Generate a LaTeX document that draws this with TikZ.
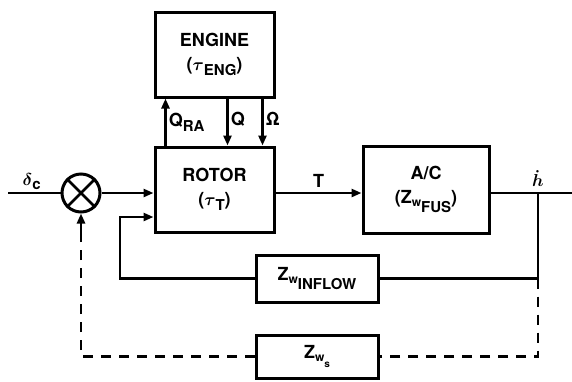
\documentclass[tikz,border=0pt]{standalone}
\usepackage{fontspec}
\setmainfont{TeX Gyre Heros}
\usetikzlibrary{positioning,arrows.meta}

% lowered subscript text and the small w index
\newcommand{\lowsub}[2][0.55ex]{\raisebox{-#1}{\fontsize{15}{15}\selectfont #2}}
\newcommand{\windex}{\raisebox{-0.3ex}{\fontsize{12}{12}\selectfont w}}

\begin{document}
\begin{tikzpicture}[
    x=1pt, y=-1pt,
    line width=2.7pt,
    blk/.style={draw, line width=3pt, align=center, inner sep=0pt, font=\bfseries\boldmath\fontsize{18}{24}\selectfont},
    sumjn/.style={circle, draw, line width=3pt, minimum size=38pt, inner sep=0pt},
    arr/.style={-{Triangle[length=10pt, width=8pt]}},
    lbl/.style={font=\bfseries\boldmath\fontsize{18}{20}\selectfont, inner sep=2pt},
    fb/.style={dash pattern=on 10pt off 8pt}
]
\useasboundingbox (0,0) rectangle (572,381);

% blocks
\node[blk, minimum width=119pt, minimum height=85pt] (engine) at (214.5,54.5) {ENGINE\\($\tau$\lowsub{ENG})};
\node[blk, minimum width=119pt, minimum height=85pt] (rotor)  at (214.5,189.5) {ROTOR\\($\tau$\lowsub{T})};
\node[blk, minimum width=126pt, minimum height=87pt] (ac)     at (426,189.5) {A/C\\(Z\windex\lowsub[1ex]{FUS})};
\node[blk, minimum width=122pt, minimum height=47pt] (zin)    at (317,278.5) {Z\windex\lowsub[1ex]{INFLOW}};
\node[blk, minimum width=122pt, minimum height=43pt] (zws)    at (317,356.5) {Z\windex\raisebox{-0.9ex}{\fontsize{10}{10}\selectfont s}};
\node[sumjn] (sum) at (81,193) {};
\draw (sum.45) -- (sum.225) (sum.135) -- (sum.315);

% junction points
\coordinate (in)   at (8,193);
\coordinate (out)  at (572,193);
\coordinate (tap)  at (538,193);
\coordinate (fbin) at (120,217);
\coordinate (fbup) at (81,240);

% forward path
\draw (in) -- node[lbl, above, pos=0.45]{$\delta$\lowsub[0.4ex]{c}} (sum.west);
\draw[arr] (sum.east) -- (sum -| rotor.west);
\draw[arr] (sum -| rotor.east) -- node[lbl, above=2pt]{T} (sum -| ac.west);
\draw (sum -| ac.east) -- (out);
\node[lbl, above=3pt of tap] (hdot) {$\dot{h}$};

% rotor / engine coupling
\draw[arr] ([xshift=12pt]rotor.north west) -- node[lbl, right]{Q\lowsub{RA}} ([xshift=12pt]engine.south west);
\draw[arr] ([xshift=74pt]engine.south west) -- node[lbl, right, yshift=3pt]{Q} ([xshift=74pt]rotor.north west);
\draw[arr] ([xshift=109pt]engine.south west) -- node[lbl, right, yshift=3pt]{Ω} ([xshift=109pt]rotor.north west);

% inflow feedback
\draw (tap) |- (zin.east);
\draw[arr] (zin.west) -| (fbin) -- (fbin -| rotor.west);

% dashed feedback
\draw[fb] (tap |- zin) |- (zws.east);
\draw[fb] (zws.west) -| (fbup);
\draw[arr] (fbup) -- (sum.south);
\end{tikzpicture}
\end{document}
